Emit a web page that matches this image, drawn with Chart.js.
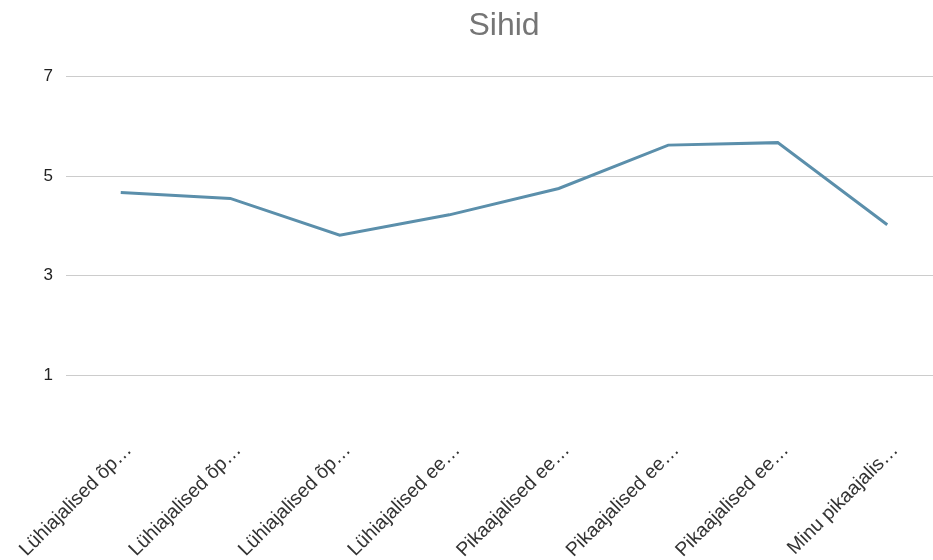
<!DOCTYPE html>
<html>
<head>
<meta charset="utf-8">
<title>Sihid</title>
<script src="https://cdn.jsdelivr.net/npm/chart.js@4"></script>
<style>
  html, body { margin: 0; padding: 0; background: #fff; overflow: hidden; }
  #wrap { width: 1008px; height: 560px; }
</style>
</head>
<body>
<div id="wrap"><canvas id="sihidChart" width="1008" height="560"></canvas></div>
<script>
// chart data
const categories = [
  'Lühiajalised õp…',
  'Lühiajalised õp…',
  'Lühiajalised õp…',
  'Lühiajalised ee…',
  'Pikaajalised ee…',
  'Pikaajalised ee…',
  'Pikaajalised ee…',
  'Minu pikaajalis…'
];
const scores = [4.67, 4.55, 3.81, 4.22, 4.75, 5.62, 5.67, 4.02];
const yTicks = [1, 3, 5, 7];

const ctx = document.getElementById('sihidChart').getContext('2d');
window.myChart = new Chart(ctx, {
    type: 'line',
    data: {
        labels: categories,
        datasets: [{
            label: 'Sihid',
            data: scores,
            borderColor: '#5b8fab',
            borderWidth: 3,
            pointRadius: 0,
            fill: false,
            tension: 0
        }]
    },
    options: {
        responsive: false,
        animation: false,
        layout: { padding: 0 },
        plugins: {
            legend: { display: false },
            tooltip: { enabled: false },
            title: {
                display: true,
                text: 'Sihid',
                color: '#757575',
                font: { family: 'Liberation Sans', size: 32, weight: 'normal' },
                padding: { top: 7, bottom: 31 }
            }
        },
        scales: {
            x: {
                offset: true,
                grid: { display: false },
                border: { display: false },
                ticks: {
                    color: '#333',
                    font: { family: 'Liberation Sans', size: 19.5 },
                    minRotation: 45,
                    maxRotation: 45,
                    autoSkip: false,
                    padding: 6,
                    labelOffset: 8
                },
                afterFit: scale => { scale.height = 135; }
            },
            y: {
                min: 0,
                max: 7,
                afterBuildTicks: axis => { axis.ticks = yTicks.map(v => ({ value: v })); },
                grid: { color: '#cccccc', lineWidth: 1, drawTicks: false },
                border: { display: false },
                ticks: {
                    color: '#222',
                    font: { family: 'Liberation Sans', size: 17 },
                    padding: 13
                },
                afterFit: scale => { scale.width = 66; }
            },
            yRight: {
                position: 'right',
                display: true,
                grid: { display: false },
                border: { display: false },
                ticks: { display: false },
                afterFit: scale => { scale.width = 66; }
            }
        }
    }
});
</script>
</body>
</html>
